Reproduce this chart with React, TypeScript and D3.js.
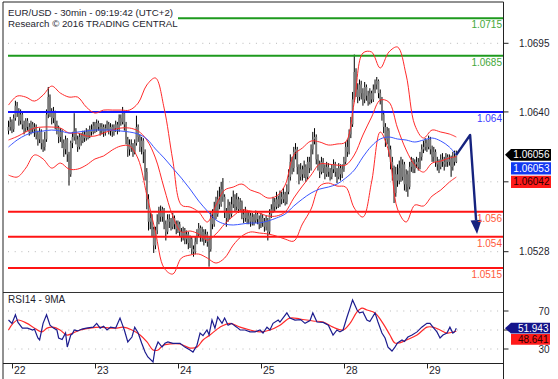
import React from 'react';
import * as d3 from 'd3';

// ---------------- data ----------------
const PIP_BASE = 1.05;
const PIP = 0.0001;
const firstOpenPips = 125;

const closePips = [
  128,132,126,135,145,140,133,138,130,127,
  133,128,124,130,126,128,122,118,124,115,
  112,118,138,152,140,135,140,130,127,120,
  124,115,110,118,106,90,115,120,125,118,
  112,120,117,122,119,124,121,126,124,129,
  126,131,128,125,128,124,127,130,125,128,
  124,127,130,126,135,132,139,130,118,110,
  114,112,108,115,128,120,112,117,108,92,
  70,52,55,46,33,45,52,60,56,62,
  50,44,54,52,48,55,50,46,50,44,
  40,45,38,42,35,38,30,28,36,42,
  47,40,44,38,42,36,30,55,50,62,
  58,70,66,78,72,60,55,65,58,66,
  72,64,70,62,68,58,55,60,54,57,
  52,56,53,58,54,50,55,52,48,53,
  44,58,62,68,64,70,66,72,70,74,
  68,76,88,100,95,108,110,96,88,94,
  90,96,88,100,95,110,118,120,102,98,
  92,100,95,90,96,92,88,94,98,92,
  88,95,90,94,100,112,108,122,130,150,
  172,158,152,162,155,150,160,153,148,155,
  150,158,162,165,155,150,138,128,118,125,
  110,100,95,75,90,85,95,88,98,82,
  90,80,96,100,94,98,100,96,104,110,
  112,115,112,118,110,104,108,100,98,96,
  102,100,98,104,100,102,96,104,100,105.6,
];
const highPips = [
  133,136,134,138,149,148,143,142,140,133,
  135,135,131,133,132,131,130,125,127,126,
  118,124,142,160,154,143,144,141,133,129,
  127,126,118,121,119,108,117,124,139,127,
  121,123,123,125,125,127,126,129,130,132,
  132,134,133,131,131,130,130,133,132,131,
  130,130,133,132,138,138,144,140,132,120,
  118,118,115,118,137,130,122,120,119,110,
  95,74,60,58,48,48,58,64,65,64,
  63,53,58,58,55,59,57,53,53,52,
  47,48,47,45,44,41,40,33,40,46,
  51,49,48,46,46,44,40,60,62,68,
  72,77,80,84,87,74,63,70,68,72,
  77,74,75,72,71,69,62,64,61,60,
  59,59,58,61,60,57,59,58,55,57,
  55,62,66,72,71,76,73,77,76,79,
  76,82,94,106,104,112,115,112,98,99,
  97,101,98,104,104,114,124,127,122,106,
  101,104,103,98,100,99,95,98,102,100,
  95,99,98,98,104,116,118,126,136,156,
  186,175,163,166,165,159,164,162,157,159,
  157,162,166,168,166,158,152,141,131,128,
  127,113,104,97,96,98,101,104,102,100,
  94,93,100,104,103,102,104,103,108,114,
  117,119,118,121,120,113,112,110,104,102,
  106,107,104,107,106,106,105,108,109,109,
];
const lowPips = [
  122,125,123,124,133,136,129,130,126,122,
  124,125,121,122,123,120,118,113,115,110,
  108,109,116,135,136,130,131,126,122,115,
  116,111,104,106,100,81,88,111,117,114,
  108,110,113,115,116,117,118,119,121,122,
  123,124,125,121,122,120,121,125,122,121,
  120,121,124,122,124,129,130,125,114,104,
  105,108,104,106,113,116,108,106,99,85,
  62,45,46,40,27,30,42,50,52,52,
  46,37,42,47,45,46,46,42,43,40,
  36,37,34,34,30,31,26,24,26,34,
  40,36,36,33,35,32,16,28,46,48,
  54,56,62,64,68,55,48,52,54,56,
  63,60,61,59,60,54,51,52,50,50,
  48,49,49,51,50,46,47,48,44,45,
  37,42,55,59,60,62,63,64,66,67,
  65,66,74,85,90,92,102,90,82,85,
  85,87,84,86,91,93,106,114,98,93,
  87,90,91,86,88,88,85,86,91,88,
  83,86,85,87,92,98,104,106,119,128,
  148,152,147,149,150,145,147,149,145,146,
  147,148,155,158,151,146,133,123,112,114,
  104,94,85,67,72,80,82,84,85,77,
  76,72,78,92,91,91,95,93,94,101,
  107,109,108,110,106,100,100,96,93,91,
  94,96,93,96,96,97,88,93,97,99,
];

const bandIdx = [
  0,5,10,15,20,25,30,35,40,45,50,55,60,65,70,75,80,85,90,95,100,105,110,115,120,125,
  130,135,140,145,150,155,160,165,170,175,180,185,190,195,200,205,210,215,220,225,230,
  235,240,245,250,255,259,
];
const upperPips = [
  145.5,152.7,151.9,148.7,153.5,160.7,155.1,151.9,151.9,143.9,
  139.1,141.5,141.5,141.5,141.5,147.1,161.6,167.2,143.1,101.4,
  65.4,63.8,59.8,51.8,65.4,77.4,79.8,82.2,77.4,75.0,
  71.0,72.6,81.4,105.5,111.1,116.7,115.9,113.5,114.3,115.9,
  147.9,187.2,188.0,175.2,188.0,192.0,169.6,129.5,119.1,125.5,
  123.9,122.3,119.9,
];
const midPips = [
  117.5,120.3,123.9,127.1,127.9,127.9,127.1,123.1,123.1,120.7,
  120.7,123.1,125.5,127.1,127.1,124.7,117.5,103.1,79.0,56.6,
  43.8,44.6,42.2,37.3,42.2,50.2,56.6,61.4,60.6,59.0,
  56.6,56.6,59.8,71.0,80.6,89.4,98.2,98.2,97.4,97.4,
  105.5,121.5,135.9,149.5,147.9,127.1,109.5,97.4,91.8,99.0,
  100.6,103.1,104.2,
];
const lowerPips = [
  89.4,87.8,95.0,105.5,102.3,95.0,99.0,94.2,94.2,97.4,
  102.3,104.7,109.5,112.7,112.7,102.3,73.4,43.8,14.9,10.1,
  22.9,25.3,26.1,22.9,18.9,22.9,33.3,40.5,43.8,43.0,
  42.2,40.5,38.1,36.5,50.2,62.2,80.6,83.0,80.6,79.8,
  63.0,55.8,83.8,123.9,107.9,62.2,51.8,65.4,64.6,72.6,
  77.4,83.8,87.8,
];
const maPips = [
  111.9,117.5,121.5,123.9,124.7,125.5,124.7,123.1,123.9,124.7,
  125.5,125.5,125.5,124.7,123.9,122.3,118.3,110.3,103.1,95.0,
  87.0,78.2,68.6,60.6,53.4,50.2,49.4,50.2,51.0,51.0,
  52.6,55.0,58.2,64.6,70.2,75.0,78.2,79.8,82.2,87.0,
  93.4,103.9,112.7,118.3,119.9,118.3,117.5,115.9,117.5,119.1,
  116.7,111.9,105.3,
];

const rsiIdx = [
  0,2,4,5.5,8,11,14,15,17,18,
  20,22,24,26,28,29,31,33,34,36,
  37,38,40,42.5,45,49,51,53,55,57,
  59,62,64.5,65.6,67,69,71.4,73,75,77,
  79,80.6,83.6,84.7,86.5,88.8,90.5,92.2,95.1,99.2,
  102,105,106.7,109,110.8,112.5,114.8,116,117.7,119.4,
  121,123.5,125,127,129,132,134,136.8,139.7,142.6,
  145.5,147.2,149.5,151.2,153,156,157,161,162.8,165.7,
  169,171.5,174.4,176,178.4,182,185,187.7,190,191.7,
  193.5,195.8,197.5,199,201.6,203,205,207.3,209,212,
  213.7,216,217.8,219.5,221.8,223.5,225,227.6,229,231,
  233.4,236.3,239,242,243.8,245.5,247.8,249.6,251.3,253.6,
  255.3,257,258,259,
];
const rsiVals = [
  60.5,57,66,58,52,52,50,51,41.6,39.5,
  57,66,55,52,50,41.6,40,46.8,32.1,44.7,
  46,50,49,51,52,53,57,52,54,50,
  53,52,62.6,57,50,37.4,42.6,53,46.8,36.3,
  26.8,21.6,16.3,29,37.4,32,36,37.4,36,36,
  32,29,26.8,34,46.8,44,50,45,60.5,52,
  63.7,57,62.6,55,57,53,50,50,48,48,
  50,46.8,53,50,57,60.5,58.4,68,62.6,60.5,
  61,57,60,68,58.4,58,55,44.7,50,48,
  50,63.7,73,81.6,71,68,69,60.5,59,68,
  58.4,46.8,41.6,32,27.9,32,36.3,39.5,38,42.6,
  44.7,48,53,57,57,53,48,41.6,44.7,46.8,
  53,46.8,48,51.943,
];
const rsiMaIdx = [
  0,2.6,5.5,10.7,14.2,19.4,22.3,25.7,29.8,33.8,
  37.3,41.4,47.1,52.9,58.7,62.8,66.2,71.4,76.1,80.1,
  83.6,86.5,89.4,93.4,99.2,105,109,112.5,116.5,122.3,
  128.1,133.9,139.7,145.5,151.2,157,162.8,168.6,176.1,182,
  187.7,193.5,197.5,201.6,204.5,207.3,212,216.6,220.6,223.5,
  226.3,230.3,236.3,242,245.5,249.6,253.6,259,
];
const rsiMaVals = [
  50,57,60.5,57,53,48,52,53,50,44.7,
  46.8,50,52,53,52,52,53,50,44.7,37.4,
  29,29,34,35.3,35.3,31,32,39.5,44.7,53,
  57,53,50,48,50,55,62.6,61.6,59.5,58.4,
  53,50,57,69,73,71,68,57,44.7,36.3,
  36.5,39.5,44.7,53,53,50,46.8,48.641,
];

const dayLabels = ['22', '23', '24', '25', '28', '29'];
const dayStartIdx = [2, 50, 98, 146, 194, 242];

const levelValues = [1.0715, 1.0685, 1.064, 1.056, 1.054, 1.0515];
const levelLabels = ['1.0715', '1.0685', '1.064', '1.056', '1.054', '1.0515'];
const levelKinds = ['res', 'res', 'pivot', 'sup', 'sup', 'sup'];

// price grid ticks; the 1.0584 label is hidden behind the value tags in the reference
const priceTicks = [1.0528, 1.0584, 1.064, 1.0695];
const priceTickLabels = ['1.0528', '', '1.0640', '1.0695'];
// RSI grid ticks; the 50 label is hidden behind the value tags in the reference
const rsiTicks = [30, 50, 70];
const rsiTickLabels = ['30', '', '70'];

const forecastIdx = [259, 267, 271];
const forecastPrice = [1.06056, 1.06215, 1.05422];

const lastValues = [1.06056, 1.06053, 1.06042];
const lastValueLabels = ['1.06056', '1.06053', '1.06042'];
const rsiLastValues = [51.943, 48.641];
const rsiLastLabels = ['51.943', '48.641'];

const headerLine1 = 'EUR/USD - 30min - 09:19:42 (UTC+2)';
const headerLine2 = 'Research \u00A9 2016 TRADING CENTRAL';
const rsiTitle = 'RSI14 - 9MA';

// ---------------- component ----------------
const FONT = 'Liberation Sans, Arial, Helvetica, sans-serif';

export default function App() {
  const W = 558;
  const H = 379;
  const plotL = 3;
  const plotR = 503.5;
  const mainT = 2;
  const mainB = 292.5;
  const rsiB = 363.5;

  const x = d3.scaleLinear().domain([0, 259]).range([8.5, 456.3]);
  const y = d3.scaleLinear().domain([1.0528, 1.0695]).range([251.7, 43.3]);
  const yr = d3.scaleLinear().domain([30, 70]).range([349, 311]);
  const pp = (v: number) => PIP_BASE + v * PIP;

  const bars = closePips.map((c, i) => ({
    i,
    o: pp(i === 0 ? firstOpenPips : closePips[i - 1]),
    c: pp(c),
    h: pp(highPips[i]),
    l: pp(lowPips[i]),
  }));

  const priceLine = d3
    .line<[number, number]>()
    .x((d) => x(d[0]))
    .y((d) => y(d[1]))
    .curve(d3.curveCatmullRom.alpha(0.5));
  const rsiLine = d3
    .line<[number, number]>()
    .x((d) => x(d[0]))
    .y((d) => yr(d[1]));
  const rsiMaLine = d3
    .line<[number, number]>()
    .x((d) => x(d[0]))
    .y((d) => yr(d[1]))
    .curve(d3.curveCatmullRom.alpha(0.5));

  const band = (arr: number[]) => priceLine(bandIdx.map((b, k) => [b, pp(arr[k])]) as [number, number][]) || '';

  const levelColor = (k: string) => (k === 'res' ? '#1e9a1e' : k === 'pivot' ? '#1414ff' : '#ff1414');
  const levelText = (k: string) => (k === 'res' ? '#45a83a' : k === 'pivot' ? '#3a3aff' : '#ff5a3c');

  // forecast arrow geometry
  const fpts = forecastIdx.map((f, k) => [x(f), y(forecastPrice[k])]);
  const tip = fpts[fpts.length - 1];
  const prev = fpts[fpts.length - 2];
  const dx = tip[0] - prev[0];
  const dy = tip[1] - prev[1];
  const len = Math.hypot(dx, dy);
  const ux = dx / len;
  const uy = dy / len;
  const headL = 14;
  const headW = 5.5;
  const base = [tip[0] - ux * headL, tip[1] - uy * headL];
  const arrowPath = d3.line()([...fpts.slice(0, -1), base] as [number, number][]) || '';
  const head = `M${tip[0]},${tip[1]}L${base[0] - uy * headW},${base[1] + ux * headW}L${base[0] + uy * headW},${base[1] - ux * headW}Z`;

  const tagFill = ['#000000', '#1238f0', '#ff1a1a'];
  const tagText = ['#ffffff', '#ffffff', '#2a0000'];
  const tag0 = y(lastValues[0]);
  const rsiTagFill = ['#14148a', '#ff1a1a'];
  const rsiTagText = ['#ffffff', '#2a0000'];
  const rtag0 = yr(rsiLastValues[0]);

  return (
    <svg
      width={W}
      height={H}
      style={{ position: 'absolute', left: 0, top: 0, background: '#fff' }}
      fontFamily={FONT}
    >
      <defs>
        <clipPath id="mainClip">
          <rect x={plotL} y={mainT} width={plotR - plotL} height={mainB - mainT} />
        </clipPath>
        <clipPath id="rsiClip">
          <rect x={plotL} y={mainB} width={plotR - plotL} height={rsiB - mainB} />
        </clipPath>
      </defs>
      <rect x={0} y={0} width={W} height={H} fill="#fff" />

      {/* dotted grid */}
      {priceTicks.map((t, k) => (
        <line key={'pg' + k} x1={8} x2={plotR - 2} y1={y(t)} y2={y(t)} stroke="#b8b8b8" strokeWidth={1} strokeDasharray="1 5.7" />
      ))}
      {rsiTicks.map((t, k) => (
        <line key={'rg' + k} x1={8} x2={plotR - 2} y1={yr(t)} y2={yr(t)} stroke="#b8b8b8" strokeWidth={1} strokeDasharray="1 5.7" />
      ))}

      <g clipPath="url(#mainClip)">
        {/* candles */}
        {bars.map((b) => (
          <line key={'w' + b.i} x1={x(b.i)} x2={x(b.i)} y1={y(b.h)} y2={y(b.l)} stroke="#000" strokeWidth={1} />
        ))}
        {bars.map((b) => {
          const top = Math.min(y(b.o), y(b.c));
          const hgt = Math.max(Math.abs(y(b.o) - y(b.c)), 0.8);
          return <rect key={'b' + b.i} x={x(b.i) - 0.9} y={top} width={1.8} height={hgt} fill="#7a7a7a" />;
        })}

        {/* levels */}
        {levelValues.map((v, k) => (
          <line key={'lv' + k} x1={8} x2={plotR} y1={y(v)} y2={y(v)} stroke={levelColor(levelKinds[k])} strokeWidth={2} />
        ))}

        {/* bollinger + ma */}
        <path d={band(upperPips)} fill="none" stroke="#ff2a2a" strokeWidth={1} />
        <path d={band(midPips)} fill="none" stroke="#ff2a2a" strokeWidth={1} />
        <path d={band(lowerPips)} fill="none" stroke="#ff2a2a" strokeWidth={1} />
        <path d={band(maPips)} fill="none" stroke="#3a55ff" strokeWidth={1} />
      </g>

      {/* forecast arrow */}
      <path d={arrowPath} fill="none" stroke="#16237f" strokeWidth={2.4} strokeLinejoin="round" />
      <path d={head} fill="#16237f" />

      {/* level labels */}
      {levelValues.map((v, k) => (
        <text key={'ll' + k} x={plotR - 1.5} y={y(v) + 10} textAnchor="end" fontSize={10} fill={levelText(levelKinds[k])}>
          {levelLabels[k]}
        </text>
      ))}

      {/* header */}
      <rect x={5} y={4} width={173} height={25} fill="#fff" />
      <text x={8} y={15.5} fontSize={9.7} fill="#1e1e2e">{headerLine1}</text>
      <text x={8} y={26.5} fontSize={9.7} fill="#1e1e2e">{headerLine2}</text>

      {/* RSI */}
      <g clipPath="url(#rsiClip)">
        <path d={rsiMaLine(rsiMaIdx.map((v, k) => [v, rsiMaVals[k]]) as [number, number][]) || ''} fill="none" stroke="#ff2a2a" strokeWidth={1.2} />
        <path d={rsiLine(rsiIdx.map((v, k) => [v, rsiVals[k]]) as [number, number][]) || ''} fill="none" stroke="#1c1c8e" strokeWidth={1.2} />
      </g>
      <text x={8} y={303} fontSize={10} fill="#1e1e2e">{rsiTitle}</text>

      {/* frame */}
      <line x1={plotL} x2={plotR} y1={mainT} y2={mainT} stroke="#222" strokeWidth={1} />
      <line x1={plotL} x2={plotR} y1={mainB} y2={mainB} stroke="#333" strokeWidth={1} />
      <line x1={plotL} x2={plotR} y1={rsiB} y2={rsiB} stroke="#222" strokeWidth={1} />
      <line x1={plotL} x2={plotL} y1={mainT} y2={H} stroke="#222" strokeWidth={1} />
      <line x1={plotR} x2={plotR} y1={mainT} y2={H} stroke="#222" strokeWidth={1} />

      {/* date axis */}
      {dayStartIdx.map((d, k) => (
        <g key={'d' + k}>
          <line x1={Math.round(x(d)) + 0.5} x2={Math.round(x(d)) + 0.5} y1={rsiB} y2={rsiB + 5} stroke="#222" strokeWidth={1} />
          <text x={x(d) + 2} y={374} fontSize={10.5} fill="#1e1e2e">{dayLabels[k]}</text>
        </g>
      ))}

      {/* price axis */}
      {priceTicks.map((t, k) => (
        <g key={'pt' + k}>
          <line x1={plotR} x2={plotR + 5} y1={y(t)} y2={y(t)} stroke="#222" strokeWidth={1} />
          {priceTickLabels[k] ? (
            <text x={549.5} y={y(t) + 3.6} textAnchor="end" fontSize={10} fill="#1e1e2e">{priceTickLabels[k]}</text>
          ) : null}
        </g>
      ))}
      {rsiTicks.map((t, k) => (
        <g key={'rt' + k}>
          <line x1={plotR} x2={plotR + 5} y1={yr(t)} y2={yr(t)} stroke="#222" strokeWidth={1} />
          {rsiTickLabels[k] ? (
            <text x={549.5} y={yr(t) + 4} textAnchor="end" fontSize={10} fill="#1e1e2e">{rsiTickLabels[k]}</text>
          ) : null}
        </g>
      ))}

      {/* last value tags */}
      {lastValues.map((v, k) => {
        const cy = tag0 + k * 13.5;
        const d =
          k === 0
            ? `M505,${cy}L511,${cy - 5.8}L551,${cy - 5.8}L551,${cy + 5.8}L511,${cy + 5.8}Z`
            : `M511,${cy - 6.2}L551,${cy - 6.2}L551,${cy + 6.2}L511,${cy + 6.2}Z`;
        return (
          <g key={'tg' + k}>
            <path d={d} fill={tagFill[k]} />
            <text x={549.5} y={cy + 3.6} textAnchor="end" fontSize={10} fill={tagText[k]}>{lastValueLabels[k]}</text>
          </g>
        );
      })}
      {rsiLastValues.map((v, k) => {
        const cy = rtag0 + k * 11.2;
        const d =
          k === 0
            ? `M505,${cy}L511,${cy - 5.4}L550,${cy - 5.4}L550,${cy + 5.4}L511,${cy + 5.4}Z`
            : `M511,${cy - 5.3}L550,${cy - 5.3}L550,${cy + 5.3}L511,${cy + 5.3}Z`;
        return (
          <g key={'rtg' + k}>
            <path d={d} fill={rsiTagFill[k]} />
            <text x={548.5} y={cy + 3.6} textAnchor="end" fontSize={10} fill={rsiTagText[k]}>{rsiLastLabels[k]}</text>
          </g>
        );
      })}
    </svg>
  );
}
